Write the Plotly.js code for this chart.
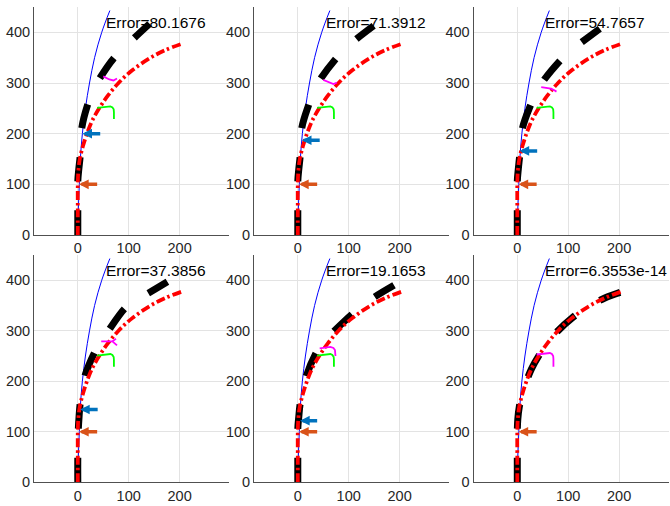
<!DOCTYPE html>
<html><head><meta charset="utf-8">
<script src="https://cdn.plot.ly/plotly-3.0.1.min.js"></script>
<style>html,body{margin:0;padding:0;background:#fff}#chart{width:670px;height:506px}</style>
</head><body><div id="chart"></div>
<script>
const errorLabels = ["Error=80.1676","Error=71.3912","Error=54.7657","Error=37.3856","Error=19.1653","Error=6.3553e-14"];
const xTicks = [0,100,200];
const yTicks = [0,100,200,300,400];

// reference path (thin blue)
const blueX = [0,1,3,5,9,15,23,33,47,63];
const blueY = [0,50,100,150,200,250,300,350,400,443];
// target path (red dash-dot)
const redX = [0,0,0,1,4,10,18,28,42,59,80,107,143,172,203];
const redY = [0,50,100,125,150,175,200,225,250,275,300,325,350,365,377];

// estimated paths (black dashed), one per panel
const blackX1 = [0,0,0,2,4.6,8,19,30,43,70,90,110,141];
const blackY1 = [0,50,106,130,155,212,256,285,309,348,368,388,417];
const blackX2 = [0,0,0,2,4.6,8,21,31,44,74,93,113,149];
const blackY2 = [0,50,106,130,155,212,256,283,307,347,367,385,413];
const blackX3 = [0,0,0,2,4.6,10,26,38,51,84,102,123,162];
const blackY3 = [0,50,106,130,155,210,256,282,304,344,362,378,407];
const blackX4 = [0,0,1,2.5,4.6,14,34,47,60,93,114,136,176];
const blackY4 = [0,50,104,130,155,210,259,281,300,345,361,373,397];
const blackX5 = [0,0,0,2,4.6,16,37.5,52,69,107,128,148,189];
const blackY5 = [0,50,106,130,155,208,259,280,297,333,350,365,390];
const blackX6 = [0,0,0,1,4,10,18,28,42,59,80,107,143,172,202];
const blackY6 = [0,50,100,125,150,175,200,225,250,275,300,325,350,365,376];

// green marker curve (panels 1-5)
const greenX = [38,55,64,68,70.5,71,71];
const greenY = [251,252,254,252,248,242,229];

// magenta marker curves per panel
const magX1 = [50,62,70,77],            magY1 = [313,307,305,309];
const magX2 = [50,62,70,77],            magY2 = [306,301,298,301];
const magX3 = [47,58,66,72,77],         magY3 = [292,291,289,286,283];
const magX4 = [46,68,77,null,68,75],    magY4 = [279,279,271,null,279,284];
const magX5 = [43,55,64,70,73,74],      magY5 = [265,267,268,266,262,250];
const magX6 = [38,55,64,68,70.5,71,71], magY6 = [253,254,256,254,250,244,229];

// arrows
const blueArrowY    = [200,187,166,144,122,null];
const blueArrowTail = [47,46,42,42,41,null];
const blueArrowTip  = [9,8,4.5,4.5,4.5,null];
const orangeArrowY = 100, orangeArrowTail = 41, orangeArrowTip = 2.5;

const blackXs = [blackX1,blackX2,blackX3,blackX4,blackX5,blackX6];
const blackYs = [blackY1,blackY2,blackY3,blackY4,blackY5,blackY6];
const magXs = [magX1,magX2,magX3,magX4,magX5,magX6];
const magYs = [magY1,magY2,magY3,magY4,magY5,magY6];

const W = 670, H = 506;
const colPx = [[34,229],[254,449],[473.5,668.5]];
const rowPx = [[7,235],[255,482.3]];

const traces = [];
const annotations = [];
const layout = {
  width: W, height: H, margin: {l:0,r:0,t:0,b:0},
  paper_bgcolor: '#fff', plot_bgcolor: '#fff', showlegend: false,
  font: {family: 'Liberation Sans, Arial, sans-serif', color: '#262626'}
};

for (let i = 0; i < 6; i++) {
  const r = Math.floor(i / 3), c = i % 3;
  const n = i + 1;
  const xa = 'x' + (n === 1 ? '' : n), ya = 'y' + (n === 1 ? '' : n);
  const axCommon = {
    showgrid: true, gridcolor: '#e3e3e3', gridwidth: 1,
    zeroline: false, showline: true, linecolor: '#505050', linewidth: 1,
    ticks: '', tickfont: {size: 14.5, color: '#262626', family: 'Liberation Sans, Arial, sans-serif'},
    fixedrange: true
  };
  layout['xaxis' + (n === 1 ? '' : n)] = Object.assign({}, axCommon, {
    domain: [colPx[c][0] / W, colPx[c][1] / W],
    range: [-86, 297], tickvals: xTicks, anchor: ya
  });
  layout['yaxis' + (n === 1 ? '' : n)] = Object.assign({}, axCommon, {
    domain: [1 - rowPx[r][1] / H, 1 - rowPx[r][0] / H],
    range: [0, 450], tickvals: yTicks, anchor: xa
  });

  traces.push({x: blueX, y: blueY, xaxis: xa, yaxis: ya, mode: 'lines',
    line: {color: '#0000FF', width: 1, shape: 'spline'}, hoverinfo: 'skip'});
  traces.push({x: blackXs[i], y: blackYs[i], xaxis: xa, yaxis: ya, mode: 'lines',
    line: {color: '#000000', width: 7, shape: 'spline', dash: '24.5px,29px'}, hoverinfo: 'skip'});
  traces.push({x: redX, y: redY, xaxis: xa, yaxis: ya, mode: 'lines',
    line: {color: '#FF0000', width: 3.8, shape: 'spline', dash: '9px,3px,2.5px,3px'}, hoverinfo: 'skip'});
  if (i < 5) {
    traces.push({x: greenX, y: greenY, xaxis: xa, yaxis: ya, mode: 'lines',
      line: {color: '#00FF00', width: 1.8}, hoverinfo: 'skip'});
  }
  traces.push({x: magXs[i], y: magYs[i], xaxis: xa, yaxis: ya, mode: 'lines',
    line: {color: '#FF00FF', width: 1.8}, hoverinfo: 'skip'});

  annotations.push({xref: xa, yref: ya, x: orangeArrowTip, y: orangeArrowY,
    axref: xa, ayref: ya, ax: orangeArrowTail, ay: orangeArrowY, text: '',
    showarrow: true, arrowhead: 2, arrowsize: 0.55, arrowwidth: 3.5, arrowcolor: '#D95319', standoff: 0});
  if (blueArrowY[i] !== null) {
    annotations.push({xref: xa, yref: ya, x: blueArrowTip[i], y: blueArrowY[i],
      axref: xa, ayref: ya, ax: blueArrowTail[i], ay: blueArrowY[i], text: '',
      showarrow: true, arrowhead: 2, arrowsize: 0.55, arrowwidth: 3.5, arrowcolor: '#0072BD', standoff: 0});
  }
  annotations.push({xref: xa, yref: ya, x: 51, y: 420, text: errorLabels[i],
    showarrow: false, xanchor: 'left', yanchor: 'middle',
    font: {size: 15.5, color: '#000000', family: 'Liberation Sans, Arial, sans-serif'}});
}
layout.annotations = annotations;

Plotly.newPlot('chart', traces, layout, {staticPlot: true, displayModeBar: false});
</script></body></html>
